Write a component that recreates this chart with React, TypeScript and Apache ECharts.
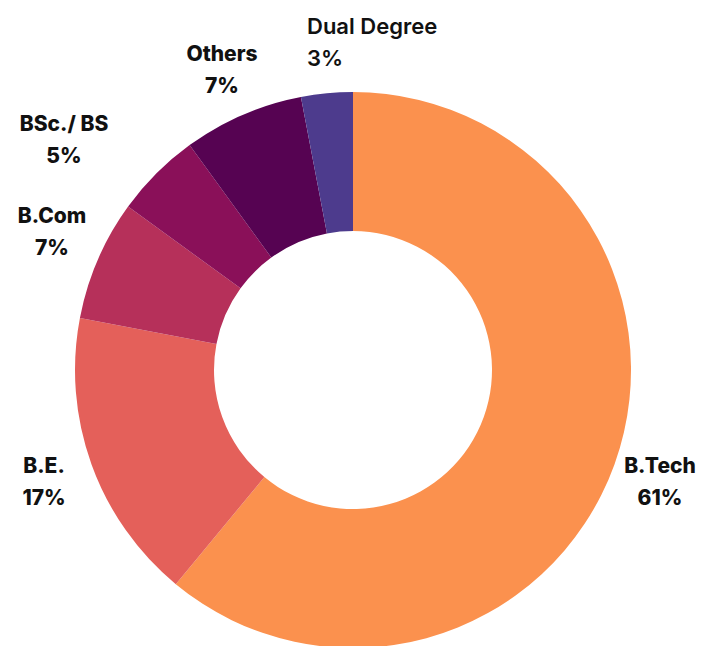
import React, { useEffect, useRef } from "react";
import * as echarts from "echarts";

const categories = ["B.Tech", "B.E.", "B.Com", "BSc./ BS", "Others", "Dual Degree"];
const values = [61, 17, 7, 5, 7, 3];
const colors = ["#FB914E", "#E4605A", "#B6305A", "#8A1059", "#560352", "#4D3B8D"];

// label anchor positions (layout only)
const labelAnchors: Record<string, { x: number; y: number; align: string }> = {
  "B.Tech": { x: 660, y: 481, align: "center" },
  "B.E.": { x: 44, y: 481, align: "center" },
  "B.Com": { x: 52, y: 231, align: "center" },
  "BSc./ BS": { x: 64, y: 139, align: "center" },
  Others: { x: 222, y: 69, align: "center" },
  "Dual Degree": { x: 307, y: 42, align: "left" },
};

export default function App() {
  const ref = useRef<HTMLDivElement>(null);
  useEffect(() => {
    const chart = echarts.init(ref.current!, undefined, { renderer: "svg" });
    chart.setOption({
      animation: false,
      backgroundColor: "#ffffff",
      series: [
        {
          type: "pie",
          center: [353, 370],
          radius: [139, 278],
          startAngle: 90,
          clockwise: true,
          avoidLabelOverlap: false,
          data: categories.map((name, i) => ({
            name,
            value: values[i],
            itemStyle: { color: colors[i] },
            label:
              name === "Dual Degree"
                ? { fontWeight: 600, fontSize: 22 }
                : {},
          })),
          label: {
            show: true,
            position: "outside",
            formatter: "{b}\n{c}%",
            color: "#111111",
            fontFamily: "Inter",
            fontWeight: 800,
            fontSize: 21,
            lineHeight: 32,
            overflow: "none",
            width: 200,
          },
          labelLine: { show: false },
          labelLayout: (params: any) => {
            const name = categories[params.dataIndex];
            const a = labelAnchors[name];
            return { x: a.x, y: a.y, align: a.align, verticalAlign: "middle" };
          },
        },
      ],
    });
    return () => chart.dispose();
  }, []);
  return (
    <div
      ref={ref}
      style={{ position: "fixed", left: 0, top: 0, width: 719, height: 646 }}
    />
  );
}
